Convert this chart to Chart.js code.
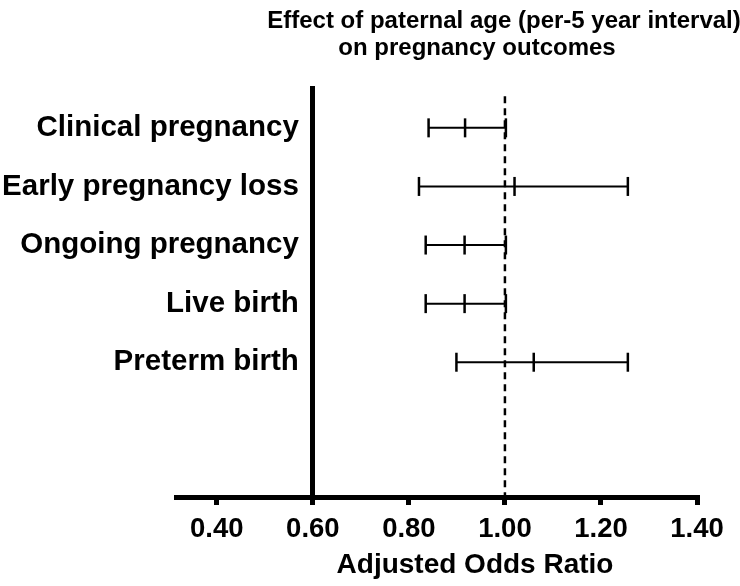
<!DOCTYPE html>
<html><head><meta charset="utf-8">
<script src="https://cdn.jsdelivr.net/npm/chart.js@4.4.0/dist/chart.umd.min.js"></script>
<style>html,body{margin:0;padding:0;background:#fff}#wrap{width:740px;height:586px;position:relative}</style>
</head><body><div id="wrap"><canvas id="c"></canvas></div>
<script>
const categories = ['Clinical pregnancy', 'Early pregnancy loss', 'Ongoing pregnancy', 'Live birth', 'Preterm birth'];
const oddsRatio = [0.917, 1.020, 0.916, 0.916, 1.060];
const ciLower = [0.841, 0.821, 0.835, 0.835, 0.899];
const ciUpper = [1.002, 1.256, 1.002, 1.002, 1.256];
const xTicks = [0.40, 0.60, 0.80, 1.00, 1.20, 1.40];
const referenceValue = 1.00;
const titleLines = ['Effect of paternal age (per-5 year interval)', 'on pregnancy outcomes'];
const xTitle = 'Adjusted Odds Ratio';

const FONT = '"Liberation Sans", Arial, Helvetica, sans-serif';
const rowIdx = categories.map((_, i) => i + 1);
const Y_MIN = 0.32, Y_MAX = 7.3;
const Y_LABEL_GAP = 14;

const datasets = categories.map((c, i) => ({
  label: c,
  data: [
    {x: ciLower[i], y: rowIdx[i]},
    {x: oddsRatio[i], y: rowIdx[i]},
    {x: ciUpper[i], y: rowIdx[i]}
  ],
  showLine: true,
  borderColor: '#000',
  borderWidth: 2,
  pointStyle: 'line',
  rotation: 90,
  pointRadius: 9.5,
  pointHoverRadius: 9.5,
  pointBorderWidth: 2.5,
  pointBorderColor: '#000',
  pointBackgroundColor: '#000'
}));
datasets.push({
  label: 'reference',
  data: [{x: referenceValue, y: Y_MIN + 0.14}, {x: referenceValue, y: Y_MAX}],
  showLine: true,
  borderColor: '#000',
  borderWidth: 2.5,
  borderDash: [7, 5],
  pointRadius: 0,
  pointHoverRadius: 0
});

const textPlugin = {
  id: 'texts',
  beforeDraw(chart) {
    // keep a gap between the category labels and the axis line drawn at x = 0.60
    const items = chart.scales.y.getLabelItems();
    items.forEach(it => {
      if (!it._shifted) { it.options.translation[0] -= Y_LABEL_GAP; it._shifted = true; }
    });
  },
  afterDraw(chart) {
    const c = chart.ctx;
    c.save();
    c.fillStyle = '#000';
    c.textAlign = 'center';
    c.textBaseline = 'middle';
    c.font = 'bold 24px ' + FONT;
    c.fillText(titleLines[0], 504, 21);
    c.fillText(titleLines[1], 477, 48);
    c.font = 'bold 28px ' + FONT;
    c.fillText(xTitle, 475, 565);
    c.restore();
  }
};

new Chart(document.getElementById('c'), {
  type: 'scatter',
  data: {datasets},
  options: {
    responsive: true,
    maintainAspectRatio: false,
    animation: false,
    events: [],
    layout: {padding: {left: 176, right: 43, top: 88, bottom: 0}},
    plugins: {legend: {display: false}, tooltip: {enabled: false}, title: {display: false}},
    scales: {
      x: {
        type: 'linear',
        min: 0.315,
        max: 1.40,
        afterBuildTicks: ax => { ax.ticks = xTicks.map(v => ({value: v})); },
        afterFit: ax => { ax.height = 89; },
        ticks: {
          callback: v => Number(v).toFixed(2),
          font: {family: FONT, size: 27.5, weight: 'bold'},
          color: '#000',
          padding: 8,
          maxRotation: 0,
          autoSkip: false
        },
        grid: {display: true, drawOnChartArea: false, drawTicks: true, tickLength: 8, tickWidth: 5, tickColor: '#000', lineWidth: 5},
        border: {display: true, width: 5, color: '#000'}
      },
      y: {
        type: 'linear',
        reverse: true,
        min: Y_MIN,
        max: Y_MAX,
        position: {x: 0.60},
        afterBuildTicks: ax => { ax.ticks = rowIdx.map(v => ({value: v})); },
        ticks: {
          callback: v => categories[v - 1] ?? '',
          font: {family: FONT, size: 29.5, weight: 'bold'},
          color: '#000',
          padding: 12,
          autoSkip: false
        },
        grid: {display: false, drawTicks: false},
        border: {display: true, width: 5, color: '#000'}
      }
    }
  },
  plugins: [textPlugin]
});
</script>
</body></html>
